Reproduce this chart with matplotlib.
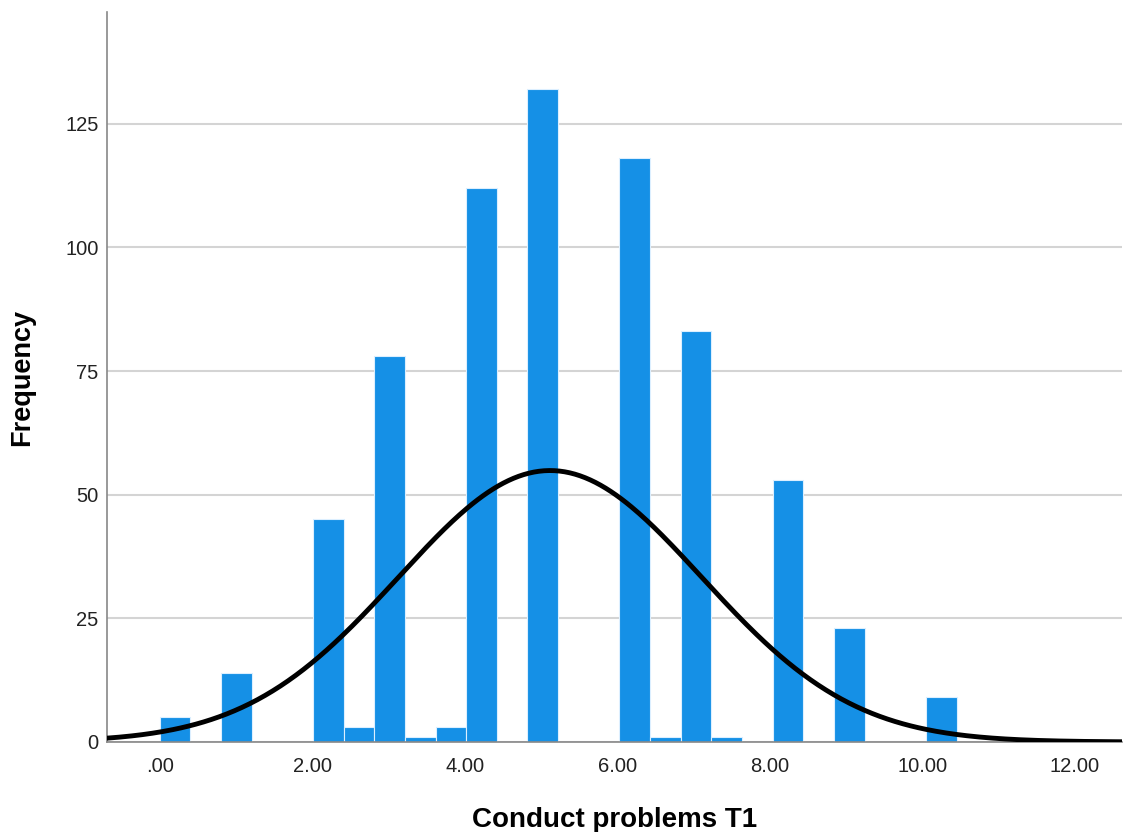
import numpy as np
import matplotlib.pyplot as plt

plt.rcParams['font.family'] = ['Liberation Sans', 'DejaVu Sans']

# histogram bins (SPSS style), left edge of first bin and bin width
bin_start = 0.0
bin_width = 0.402
counts = [5, 0, 14, 0, 0, 45, 3, 78, 1, 3, 112, 0, 132, 0, 0,
          118, 1, 83, 1, 0, 53, 0, 23, 0, 0, 9]

# normal curve parameters
mean = 5.12
sd = 1.99
n_total = sum(counts)

xticks = [0, 2, 4, 6, 8, 10, 12]
xticklabels = ['.00', '2.00', '4.00', '6.00', '8.00', '10.00', '12.00']
yticks = [0, 25, 50, 75, 100, 125]

fig = plt.figure(figsize=(11.24, 8.32), dpi=100)
ax = fig.add_axes([0.0952, 0.1082, 0.903, 0.8774])

lefts = bin_start + bin_width * np.arange(len(counts))
ax.bar(lefts, counts, width=bin_width, align='edge', color='#1590e6',
       edgecolor='#dcefff', linewidth=0.8, zorder=2)

xs = np.linspace(-0.7, 12.7, 400)
ys = n_total * bin_width / (sd * np.sqrt(2 * np.pi)) * np.exp(-(xs - mean) ** 2 / (2 * sd ** 2))
ax.plot(xs, ys, color='black', linewidth=3.5, zorder=3)

ax.set_xlim(-0.69, 12.62)
ax.set_ylim(0, 147.6)
ax.set_xticks(xticks)
ax.set_xticklabels(xticklabels)
ax.set_yticks(yticks)
ax.tick_params(length=0, labelsize=14.5, colors='#222222')
ax.tick_params(axis='x', pad=11)
ax.tick_params(axis='y', pad=6)
ax.yaxis.grid(True, color='#d4d4d4', linewidth=1.5, zorder=0)
ax.set_axisbelow(True)

for s in ['top', 'right']:
    ax.spines[s].set_visible(False)
for s in ['left', 'bottom']:
    ax.spines[s].set_color('#888888')
    ax.spines[s].set_linewidth(1.2)

ax.set_xlabel('Conduct problems T1', fontsize=20, fontweight='bold', labelpad=22)
ax.set_ylabel('Frequency', fontsize=19.5, fontweight='bold', labelpad=22)

fig.savefig('out.png', dpi=100)
